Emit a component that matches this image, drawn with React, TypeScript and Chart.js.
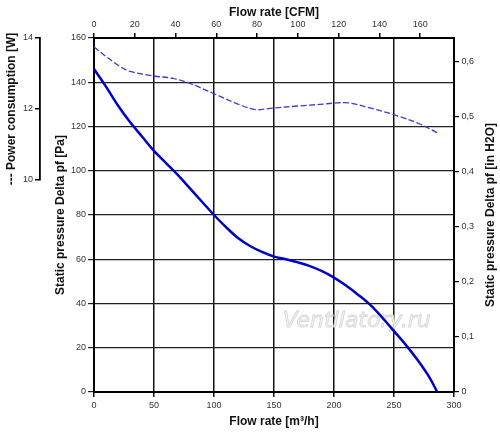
import { useEffect, useRef } from "react";
import { Chart, registerables } from "chart.js";

Chart.register(...registerables);

// unit conversions for the secondary axes
const M3H_TO_CFM = 0.588578;
const PA_TO_INH2O = 0.00401463;

// pressure curve (solid)
const flowM3h = [0, 10, 20, 30, 40, 50, 60, 70, 80, 90, 100, 110, 120, 130, 140, 150, 160, 170, 180, 190, 200, 210, 220, 230, 240, 250, 260, 270, 280, 286];
const pressurePa = [146, 138, 129.5, 122, 115.5, 109, 103.5, 98, 92, 86, 80, 74.5, 69.6, 66, 63.3, 61.2, 60, 58.6, 56.9, 54.6, 51.7, 48.1, 44, 39.5, 33.8, 27.5, 21.2, 14.2, 6.2, 0];

// power consumption curve (dashed)
const powerFlow = [0, 10, 22, 30, 50, 66, 80, 100, 122, 135, 147, 172, 188, 202, 213, 230, 251, 272, 286];
const powerW = [13.75, 13.48, 13.19, 13.06, 12.93, 12.86, 12.72, 12.43, 12.11, 11.98, 12.02, 12.09, 12.13, 12.17, 12.17, 12.03, 11.83, 11.57, 11.33];

// axis ticks
const flowTicks = [0, 50, 100, 150, 200, 250, 300];
const cfmTicks = [0, 20, 40, 60, 80, 100, 120, 140, 160];
const paTicks = [0, 20, 40, 60, 80, 100, 120, 140, 160];
const inH2OTicks = [0, 0.1, 0.2, 0.3, 0.4, 0.5, 0.6];
const powerTicks = [10, 12, 14];

const FONT = '"Liberation Sans", Arial, sans-serif';
const tickFont = { family: FONT, size: 9 };
const titleFont = { family: FONT, size: 12, weight: "bold" as const };
const RIGHT_TITLE = "Static pressure Delta pf [in H2O]";
const WATERMARK = "Ventilatory.ru";

const fixedTicks = (vals: number[]) => (axis: any) => {
  axis.ticks = vals.map((v) => ({ value: v }));
};

// right title reads bottom-to-top, chart.js would rotate it the other way
const rightTitlePlugin = {
  id: "rightTitle",
  afterDraw(chart: any) {
    const s = chart.scales.yin;
    const { ctx, chartArea } = chart;
    ctx.save();
    ctx.translate(s.right - 9, (chartArea.top + chartArea.bottom) / 2);
    ctx.rotate(-Math.PI / 2);
    ctx.font = `bold 12px ${FONT}`;
    ctx.fillStyle = "#111";
    ctx.textAlign = "center";
    ctx.textBaseline = "middle";
    ctx.fillText(RIGHT_TITLE, 0, 0);
    ctx.restore();
  },
};

const watermarkPlugin = {
  id: "watermark",
  beforeDatasetsDraw(chart: any) {
    const { ctx } = chart;
    const x = chart.scales.x.getPixelForValue(219);
    const y = chart.scales.y.getPixelForValue(29.6);
    ctx.save();
    ctx.font = `oblique 22px "DejaVu Sans", sans-serif`;
    ctx.textAlign = "center";
    ctx.textBaseline = "alphabetic";
    ctx.fillStyle = "#f2f2f2";
    ctx.strokeStyle = "#d6d6d6";
    ctx.lineWidth = 0.8;
    ctx.fillText(WATERMARK, x, y);
    ctx.strokeText(WATERMARK, x, y);
    ctx.restore();
  },
};

export default function App() {
  const canvasRef = useRef<HTMLCanvasElement>(null);
  const chartRef = useRef<Chart | null>(null);

  useEffect(() => {
    if (!canvasRef.current) return;
    if (chartRef.current) chartRef.current.destroy();

    chartRef.current = new Chart(canvasRef.current, {
      type: "line",
      data: {
        datasets: [
          {
            label: "Power consumption",
            data: powerFlow.map((q, i) => ({ x: q, y: powerW[i] })),
            xAxisID: "x",
            yAxisID: "power",
            borderColor: "#3c3cd2",
            borderWidth: 1.3,
            borderDash: [6, 2.5],
            pointRadius: 0,
            tension: 0.35,
          },
          {
            label: "Static pressure",
            data: flowM3h.map((q, i) => ({ x: q, y: pressurePa[i] })),
            xAxisID: "x",
            yAxisID: "y",
            borderColor: "#0000cc",
            borderWidth: 2.5,
            pointRadius: 0,
            tension: 0.35,
          },
        ],
      },
      options: {
        responsive: true,
        maintainAspectRatio: false,
        animation: false,
        layout: { padding: 0 },
        plugins: {
          legend: { display: false },
          tooltip: { enabled: false },
        },
        scales: {
          x: {
            type: "linear",
            position: "bottom",
            min: 0,
            max: 300,
            afterBuildTicks: fixedTicks(flowTicks),
            afterFit: (s: any) => { s.height = 48; },
            ticks: { font: tickFont, color: "#333", padding: 3 },
            grid: { color: "#111", lineWidth: 1.5, tickLength: 5 },
            border: { color: "#000", width: 2 },
            title: { display: true, text: "Flow rate [m³/h]", font: titleFont, color: "#111", padding: { top: 0, bottom: 11 } },
          },
          xcfm: {
            type: "linear",
            position: "top",
            min: 0,
            max: 300 * M3H_TO_CFM,
            afterBuildTicks: fixedTicks(cfmTicks),
            afterFit: (s: any) => { s.height = 38; },
            ticks: { font: tickFont, color: "#333", padding: 3.5 },
            grid: { drawOnChartArea: false, color: "#000", lineWidth: 1.5, tickLength: 5 },
            border: { color: "#000", width: 2 },
            title: { display: true, text: "Flow rate [CFM]", font: titleFont, color: "#111", padding: { top: 5, bottom: 0 } },
          },
          y: {
            type: "linear",
            position: "left",
            weight: 0,
            min: 0,
            max: 160,
            afterBuildTicks: fixedTicks(paTicks),
            afterFit: (s: any) => { s.width = 54; },
            ticks: { font: tickFont, color: "#333", padding: 2 },
            grid: { color: "#222", lineWidth: 1.2, tickLength: 6 },
            border: { color: "#000", width: 2 },
            title: { display: true, text: "Static pressure Delta pf [Pa]", font: titleFont, color: "#111", padding: { top: 13, bottom: 0 } },
          },
          yin: {
            type: "linear",
            position: "right",
            min: 0,
            max: 160 * PA_TO_INH2O,
            afterBuildTicks: fixedTicks(inH2OTicks),
            afterFit: (s: any) => { s.width = 46; },
            ticks: {
              font: tickFont,
              color: "#333",
              padding: 2.5,
              callback: (v: any) => (v === 0 ? "0" : Number(v).toFixed(1).replace(".", ",")),
            },
            grid: { drawOnChartArea: false, color: "#000", lineWidth: 1.2, tickLength: 5 },
            border: { color: "#000", width: 2 },
          },
          power: {
            type: "linear",
            position: "left",
            weight: 2,
            stack: "pw",
            stackWeight: 142,
            min: 10,
            max: 14,
            afterBuildTicks: fixedTicks(powerTicks),
            afterFit: (s: any) => { s.width = 40; },
            ticks: { font: tickFont, color: "#333", padding: 2 },
            grid: { drawOnChartArea: false, color: "#000", lineWidth: 1.5, tickLength: 5 },
            border: { color: "#000", width: 1.8 },
            title: { display: true, text: "--- Power consumption [W]", font: titleFont, color: "#111", padding: { top: 4, bottom: 0 } },
          },
          pwpad: {
            type: "linear",
            position: "left",
            weight: 1,
            stack: "pw",
            stackWeight: 212,
            afterFit: (s: any) => { s.width = 40; },
            ticks: { display: false },
            grid: { display: false },
            border: { display: false },
          },
        },
      } as any,
      plugins: [watermarkPlugin, rightTitlePlugin],
    });

    return () => {
      if (chartRef.current) {
        chartRef.current.destroy();
        chartRef.current = null;
      }
    };
  }, []);

  return (
    <div style={{ position: "absolute", left: 0, top: 0, width: 500, height: 440, background: "#fff" }}>
      <canvas ref={canvasRef} />
    </div>
  );
}
